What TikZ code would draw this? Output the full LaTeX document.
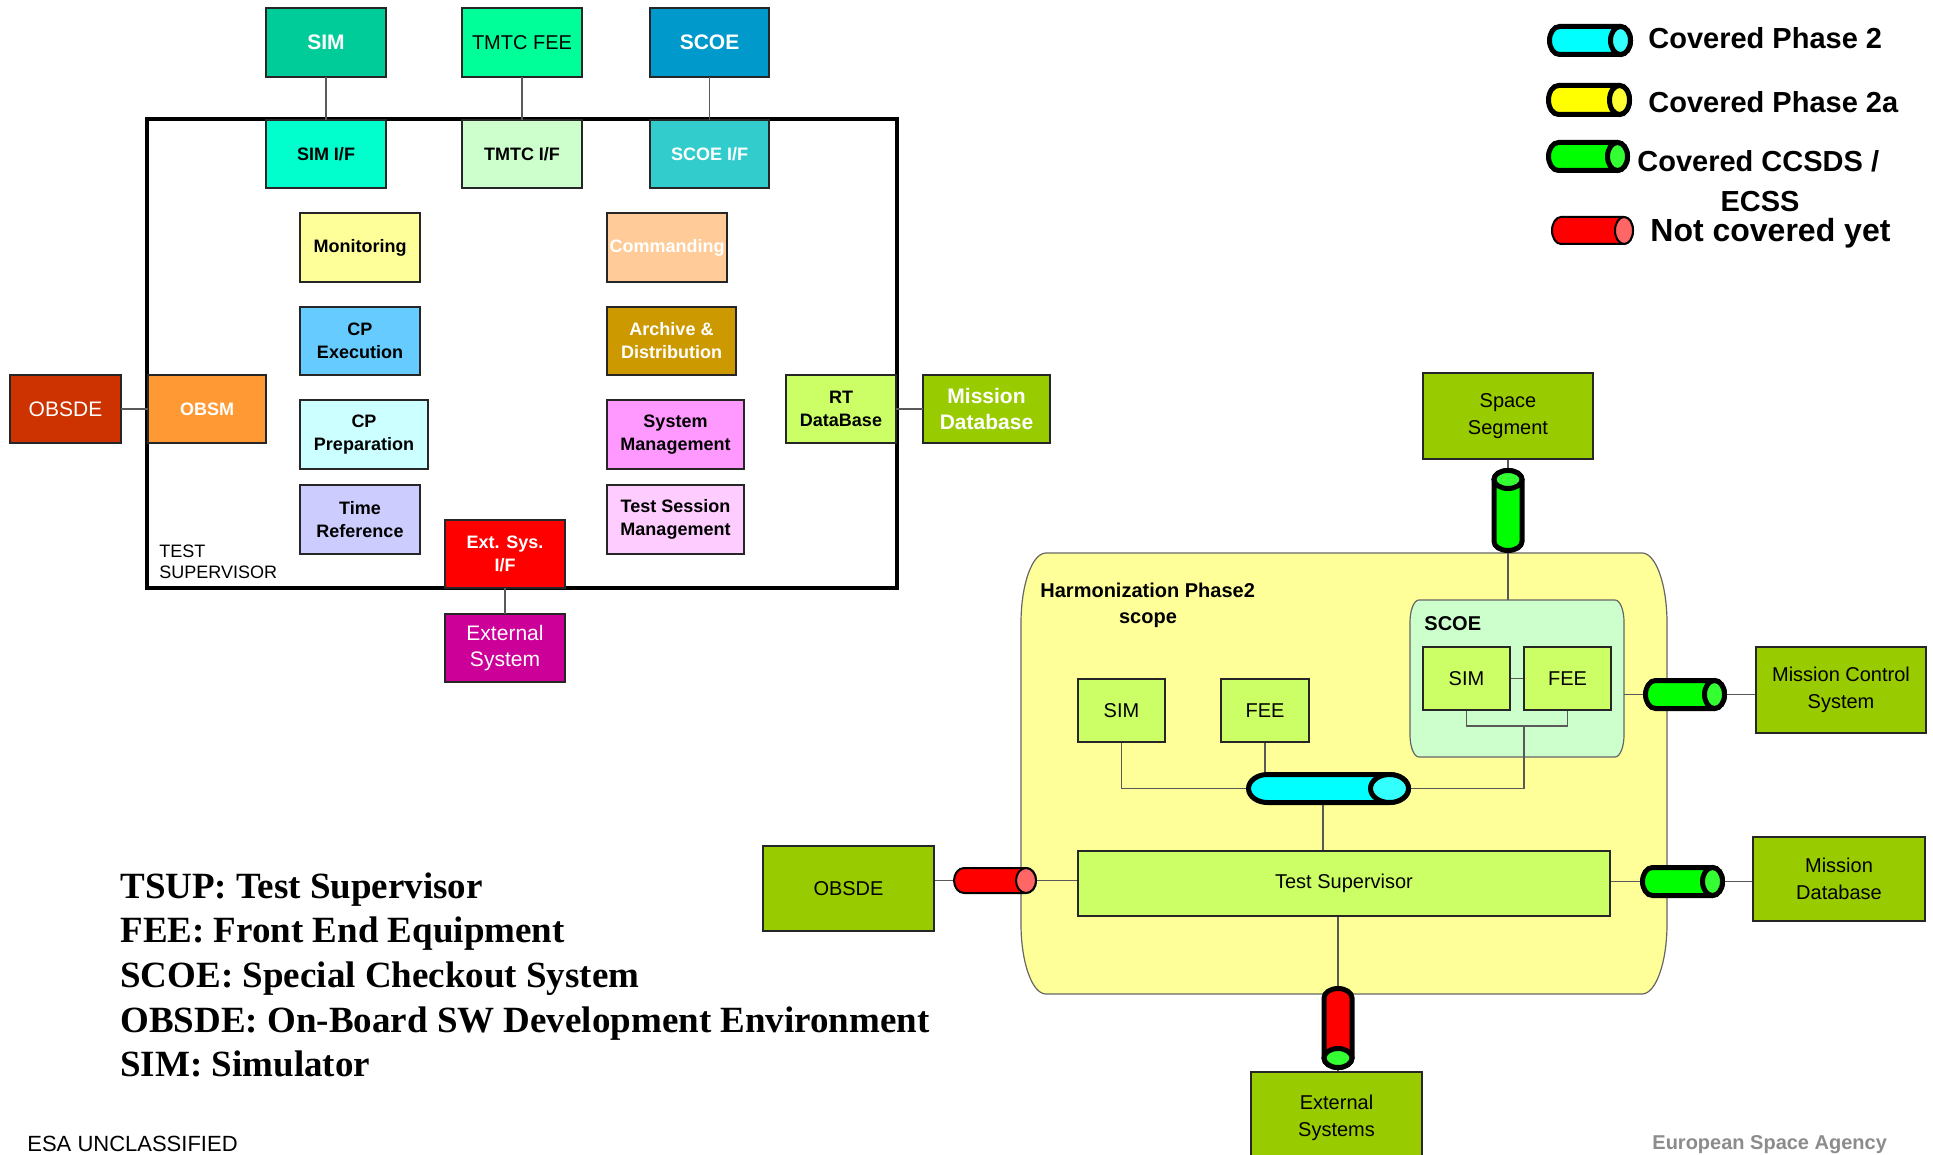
\documentclass[tikz,border=0pt]{standalone}
\usepackage{fontspec}
\setmainfont{Liberation Sans}
\newfontfamily\glossfont{Liberation Serif}
\pgfdeclarelayer{back}
\pgfsetlayers{back,main}

% palette
\definecolor{cSim}{HTML}{00CC99}
\definecolor{cTmtcFee}{HTML}{00FF99}
\definecolor{cScoe}{HTML}{0099CC}
\definecolor{cSimIf}{HTML}{00FFCC}
\definecolor{cTmtcIf}{HTML}{CCFFCC}
\definecolor{cScoeIf}{HTML}{33CCCC}
\definecolor{cMon}{HTML}{FFFF99}
\definecolor{cCmd}{HTML}{FFCC99}
\definecolor{cCpx}{HTML}{66CCFF}
\definecolor{cArch}{HTML}{CC9900}
\definecolor{cObsde}{HTML}{CC3300}
\definecolor{cObsm}{HTML}{FF9933}
\definecolor{cCpp}{HTML}{CCFFFF}
\definecolor{cSysm}{HTML}{FF99FF}
\definecolor{cLime}{HTML}{CCFF66}
\definecolor{cOlive}{HTML}{99CC00}
\definecolor{cTref}{HTML}{CCCCFF}
\definecolor{cTsm}{HTML}{FFCCFF}
\definecolor{cExtIf}{HTML}{FF0000}
\definecolor{cExtSys}{HTML}{CC0099}
\definecolor{cRegion}{HTML}{FFFF99}
\definecolor{cScoeGrp}{HTML}{CCFFCC}
\definecolor{cyBody}{HTML}{00FFFF}\definecolor{cyFace}{HTML}{33FFFF}
\definecolor{yeBody}{HTML}{FFFF00}\definecolor{yeFace}{HTML}{FFFF33}
\definecolor{grBody}{HTML}{00FF00}\definecolor{grFace}{HTML}{33FF33}
\definecolor{rdBody}{HTML}{FF0000}\definecolor{rdFace}{HTML}{FF6666}

\tikzset{
  box/.style={draw=black!85, line width=0.8pt, inner sep=0pt, outer sep=0pt, align=center},
  link/.style={draw=black!65, line width=0.7pt},
  smallbold/.style={font=\fontsize{9}{11.5}\selectfont\bfseries},
  midreg/.style={font=\fontsize{10}{13.5}\selectfont},
  midbold/.style={font=\fontsize{10}{13}\selectfont\bfseries},
  bigbold/.style={font=\fontsize{10.5}{13}\selectfont\bfseries},
  bigreg/.style={font=\fontsize{10.5}{13}\selectfont},
  legendtext/.style={font=\fontsize{14.5}{20}\selectfont\bfseries, anchor=base west, inner sep=0pt},
  gloss/.style={font=\glossfont\bfseries\fontsize{18.5}{22}\selectfont, anchor=base west, inner sep=0pt},
}

% box from its corners (x0,y0)-(x1,y1), y measured downwards
\newcommand\rbox[7]{\node[box,#6,minimum width={(#4-#2)*0.5pt},minimum height={(#5-#3)*0.5pt}] (#1) at ({(#2+#4)/2},{-(#3+#5)/2}) {#7};}

% horizontal pipe, end face on the right: name, x0, x1, yc, ry, rx, body, face, width
\newcommand\hcyl[9]{%
  \draw[line width=#9, fill=#7] ({#2+#6},{-#4+#5}) -- ({#3-#6},{-#4+#5})
    arc[start angle=90, end angle=-90, x radius=#6, y radius=#5]
    -- ({#2+#6},{-#4-#5})
    arc[start angle=270, end angle=90, x radius=#6, y radius=#5] -- cycle;
  \draw[line width=#9, fill=#8] ({#3-#6},{-#4}) ellipse[x radius=#6, y radius=#5];
  \coordinate (#1-w) at (#2,{-#4});
  \coordinate (#1-e) at (#3,{-#4});
  \coordinate (#1-n) at ({(#2+#3)/2},{-#4+#5});
  \coordinate (#1-s) at ({(#2+#3)/2},{-#4-#5});
}
% vertical pipe body: name, xc, y0, y1, rx, ry, body, width
\newcommand\vcylbody[8]{%
  \draw[line width=#8, fill=#7] ({#2-#5},{-#3-#6}) -- ({#2-#5},{-#4+#6})
    arc[start angle=180, end angle=360, x radius=#5, y radius=#6]
    -- ({#2+#5},{-#3-#6})
    arc[start angle=0, end angle=180, x radius=#5, y radius=#6] -- cycle;
  \coordinate (#1-n) at (#2,{-#3});
  \coordinate (#1-s) at (#2,{-#4});
}

\begin{document}
\begin{tikzpicture}[x=0.5pt,y=0.5pt]
\begin{pgfonlayer}{back}
  \fill[white] (0,0) rectangle (1933,-1155);
\end{pgfonlayer}
\useasboundingbox (0,0) rectangle (1933,-1155);

% ---------------- test supervisor breakdown ----------------
\rbox{tsupbox}{147}{119}{897}{588}{draw=black, line width=1.75pt}{}

\rbox{sim}{266}{8}{386}{77}{fill=cSim, text=white, bigbold}{SIM}
\rbox{tmtcfee}{462}{8}{582}{77}{fill=cTmtcFee, midreg}{TMTC FEE}
\rbox{scoe}{650}{8}{769}{77}{fill=cScoe, text=white, bigbold}{SCOE}

\rbox{simif}{266}{120}{386}{188}{fill=cSimIf, smallbold}{SIM I/F}
\rbox{tmtcif}{462}{120}{582}{188}{fill=cTmtcIf, smallbold}{TMTC I/F}
\rbox{scoeif}{650}{120}{769}{188}{fill=cScoeIf, text=white, smallbold}{SCOE I/F}

\rbox{mon}{300}{213}{420}{282}{fill=cMon, smallbold}{Monitoring}
\rbox{cmd}{607}{213}{727}{282}{fill=cCmd, text=white, smallbold}{Commanding}
\rbox{cpx}{300}{307}{420}{375}{fill=cCpx, smallbold}{CP\\Execution}
\rbox{arch}{607}{307}{736}{375}{fill=cArch, text=white, smallbold}{Archive \&\\Distribution}
\rbox{obsde}{10}{375}{121}{443}{fill=cObsde, text=white, bigreg}{OBSDE}
\rbox{obsm}{148}{375}{266}{443}{fill=cObsm, text=white, smallbold}{OBSM}
\rbox{cpp}{300}{400}{428}{469}{fill=cCpp, smallbold}{CP\\Preparation}
\rbox{sysm}{607}{400}{744}{469}{fill=cSysm, smallbold}{System\\Management}
\rbox{rtdb}{786}{375}{896}{443}{fill=cLime, smallbold}{RT\\DataBase}
\rbox{mdbl}{923}{375}{1050}{443}{fill=cOlive, text=white, bigbold}{Mission\\Database}
\rbox{tref}{300}{485}{420}{554}{fill=cTref, smallbold}{Time\\Reference}
\rbox{tsm}{607}{485}{744}{554}{fill=cTsm, smallbold}{Test Session\\Management}
\rbox{extif}{445}{520}{565}{588}{fill=cExtIf, text=white, smallbold}{Ext. Sys.\\I/F}
\rbox{extsys}{445}{614}{565}{682}{fill=cExtSys, text=white, bigreg}{External\\System}

\node[anchor=base west, inner sep=0pt, font=\fontsize{9}{11}\selectfont] (tslabA) at (159,-557) {TEST};
\node[anchor=base west, inner sep=0pt, font=\fontsize{9}{11}\selectfont] (tslabB) at (159,-578) {SUPERVISOR};

\draw[link] (sim.south) -- (simif.north);
\draw[link] (tmtcfee.south) -- (tmtcif.north);
\draw[link] (scoe.south) -- (scoeif.north);
\draw[link] (obsde.east) -- (obsm.west);
\draw[link] (rtdb.east) -- (mdbl.west);
\draw[link] (extif.south) -- (extsys.north);

% ---------------- legend ----------------
\hcyl{lgA}{1549.5}{1630.5}{40.5}{14}{10}{cyBody}{cyFace}{2.5pt}
\hcyl{lgB}{1548.5}{1629.5}{100}{14.5}{10}{yeBody}{yeFace}{2.5pt}
\hcyl{lgC}{1548.5}{1627.5}{156.5}{14}{10}{grBody}{grFace}{2.5pt}
\hcyl{lgD}{1552}{1633}{230.5}{13.5}{9}{rdBody}{rdFace}{1pt}
\node[legendtext] (lgtA) at (1648,-49) {Covered Phase 2};
\node[legendtext] (lgtB) at (1648,-113) {Covered Phase 2a};
\node[legendtext] (lgtC) at (1637,-172) {Covered CCSDS /};
\node[legendtext, anchor=base] (lgtC2) at (1760,-212) {ECSS};
\node[legendtext, font=\fontsize{16}{20}\selectfont\bfseries] (lgtD) at (1650,-242) {Not covered yet};

% ---------------- harmonization scope ----------------
\begin{pgfonlayer}{back}
  \draw[draw=black!60, line width=0.6pt, fill=cRegion]
    (1046,-553) -- (1642,-553) arc[start angle=90, end angle=0, x radius=25, y radius=70]
    -- (1667,-924) arc[start angle=0, end angle=-90, x radius=25, y radius=70]
    -- (1046,-994) arc[start angle=270, end angle=180, x radius=25, y radius=70]
    -- (1021,-623) arc[start angle=180, end angle=90, x radius=25, y radius=70] -- cycle;
  \draw[draw=black!60, line width=0.6pt, fill=cScoeGrp]
    (1419,-600) -- (1615,-600) arc[start angle=90, end angle=0, x radius=9, y radius=22]
    -- (1624,-735) arc[start angle=0, end angle=-90, x radius=9, y radius=22]
    -- (1419,-757) arc[start angle=270, end angle=180, x radius=9, y radius=22]
    -- (1410,-622) arc[start angle=180, end angle=90, x radius=9, y radius=22] -- cycle;
\end{pgfonlayer}
\rbox{scoegrp}{1410}{600}{1624}{757}{draw=none}{}

\node[anchor=base west, inner sep=0pt, midbold] (harmA) at (1040,-597) {Harmonization Phase2};
\node[anchor=base, inner sep=0pt, midbold] (harmB) at (1148,-623) {scope};
\node[anchor=base west, inner sep=0pt, midbold] (scoelab) at (1424,-630) {SCOE};

\rbox{space}{1423}{373}{1593}{459}{fill=cOlive, midreg}{Space\\Segment}
\rbox{rsim}{1078}{679}{1165}{742}{fill=cLime, midreg}{SIM}
\rbox{rfee}{1221}{679}{1309}{742}{fill=cLime, midreg}{FEE}
\rbox{ssim}{1423}{647}{1510}{710}{fill=cLime, midreg}{SIM}
\rbox{sfee}{1524}{647}{1611}{710}{fill=cLime, midreg}{FEE}
\rbox{tsup}{1078}{851}{1610}{916}{fill=cLime, midreg}{Test Supervisor}
\rbox{obsder}{763}{846}{934}{931}{fill=cOlive, midreg}{OBSDE}
\rbox{mcs}{1756}{647}{1926}{733}{fill=cOlive, midreg}{Mission Control\\System}
\rbox{mdbr}{1753}{837}{1925}{921}{fill=cOlive, midreg}{Mission\\Database}
\rbox{extr}{1251}{1072}{1422}{1164}{fill=cOlive, midreg}{External\\Systems}

% interface pipes
\vcylbody{sscyl}{1508}{470.5}{550.5}{14}{9}{grBody}{2.5pt}
\draw[line width=2.5pt, fill=grFace] (1508,-479.5) ellipse[x radius=14, y radius=9];
\hcyl{cycyl}{1248.5}{1408.5}{788.5}{14}{19}{cyBody}{cyFace}{2.5pt}
\hcyl{obcyl}{954}{1036}{880.5}{12.5}{10}{rdBody}{rdFace}{1pt}
\hcyl{mccyl}{1645.5}{1724.5}{694.5}{14}{10}{grBody}{grFace}{2.5pt}
\hcyl{dbcyl}{1642.5}{1722.5}{881.5}{14}{10}{grBody}{grFace}{2.5pt}
\vcylbody{excyl}{1338}{988.5}{1067.5}{14}{9.5}{rdBody}{2.5pt}
\draw[line width=2.5pt, fill=grFace] (1338,-1058) ellipse[x radius=14, y radius=9.5];

\coordinate (brk) at (1524,-726);
\coordinate (cydrop) at (1323,-802.5);
\begin{pgfonlayer}{back}
  \draw[link] (space.south) -- (sscyl-n);
  \draw[link] (sscyl-s) -- (sscyl-s |- scoegrp.north);
  \draw[link] (ssim.east) -- (sfee.west);
  \draw[link] (ssim.south) |- (brk) -| (sfee.south);
  \draw[link] (brk) |- (cycyl-e);
  \draw[link] (rsim.south) |- (cycyl-w);
  \draw[link] (rfee.south) -- (rfee.south |- cycyl-n);
  \draw[link] (cydrop) -- (cydrop |- tsup.north);
  \draw[link] (obcyl-w) -- (obcyl-w -| obsder.east);
  \draw[link] (obcyl-e) -- (obcyl-e -| tsup.west);
  \draw[link] (mccyl-w) -- (mccyl-w -| scoegrp.east);
  \draw[link] (mccyl-e) -- (mccyl-e -| mcs.west);
  \draw[link] (dbcyl-w) -- (dbcyl-w -| tsup.east);
  \draw[link] (dbcyl-e) -- (dbcyl-e -| mdbr.west);
  \draw[link] (excyl-n) -- (excyl-n |- tsup.south);
  \draw[link] (excyl-s) -- (excyl-s |- extr.north);
\end{pgfonlayer}

% ---------------- glossary and footer ----------------
\node[gloss] (gA) at (120,-898) {TSUP: Test Supervisor};
\node[gloss] (gB) at (120,-942) {FEE: Front End Equipment};
\node[gloss] (gC) at (120,-987) {SCOE: Special Checkout System};
\node[gloss] (gD) at (120,-1032) {OBSDE: On-Board SW Development Environment};
\node[gloss] (gE) at (120,-1076) {SIM: Simulator};

\node[anchor=base west, inner sep=0pt, font=\fontsize{11}{13}\selectfont] (esa) at (27,-1151) {ESA UNCLASSIFIED};
\node[anchor=base west, inner sep=0pt, text=black!45, font=\fontsize{10}{12}\selectfont\bfseries] (agency) at (1652,-1149) {European Space Agency};
\end{tikzpicture}
\end{document}
